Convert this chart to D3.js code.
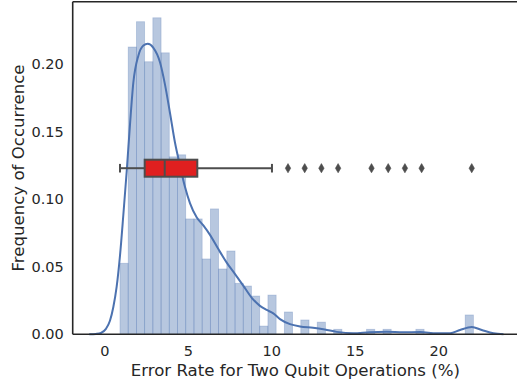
<!DOCTYPE html>
<html>
<head>
<meta charset="utf-8">
<script src="https://cdn.jsdelivr.net/npm/d3@7"></script>
<style>
  html, body { margin: 0; padding: 0; background: #fff; }
  svg { display: block; }
  text { font-family: "DejaVu Sans", sans-serif; fill: #262626; }
</style>
</head>
<body>
<svg id="chart" width="517" height="385"></svg>
<script>
// ---------- data ----------
const histMin = 0.94;
const histMax = 22.1;
const histDensity = [0.0525, 0.2124, 0.2311, 0.2015, 0.234, 0.2081, 0.1312, 0.1327, 0.0853, 0.0853,
  0.0557, 0.0927, 0.0483, 0.0616, 0.0377, 0.0357, 0.0283, 0.0061, 0.029, 0,
  0.0165, 0, 0.0106, 0, 0.009, 0, 0.0037, 0, 0, 0,
  0.0037, 0, 0.0037, 0, 0, 0, 0.0037, 0, 0, 0,
  0, 0, 0.0143];
const kdeX = [-0.9, -0.5, -0.2, 0.1, 0.34, 0.54, 0.74, 0.94, 1.14, 1.34, 1.54, 1.74, 2.04, 2.34, 2.6, 2.93,
  3.34, 3.63, 3.93, 4.23, 4.53, 4.83, 5.13, 5.53, 5.93, 6.33, 6.83, 7.33, 7.83, 8.32, 8.83, 9.32, 9.72,
  10.12, 10.52, 11.12, 11.72, 12.5, 13.2, 13.92, 14.9, 15.9, 16.9, 17.9, 18.9, 19.9, 20.7, 21.3, 22.0,
  22.6, 23.3, 23.9];
const kdeY = [0, 0.0003, 0.001, 0.004, 0.010, 0.02, 0.035, 0.058, 0.088, 0.12, 0.155, 0.186, 0.206, 0.2135, 0.2148, 0.212,
  0.201, 0.185, 0.164, 0.142, 0.125, 0.109, 0.097, 0.0865, 0.0805, 0.0735, 0.063, 0.053, 0.0445, 0.036, 0.027, 0.021, 0.018,
  0.0155, 0.0112, 0.0075, 0.0058, 0.0048, 0.0035, 0.0018, 0.0008, 0.0016, 0.0019, 0.0015, 0.0017, 0.0007, 0.0007, 0.0032, 0.0054,
  0.0032, 0.0008, 0];
const boxStats = { whiskerLow: 0.94, q1: 2.42, median: 3.62, q3: 5.57, whiskerHigh: 10.04 };
const boxLevel = 0.1228;
const outliers = [11, 12, 13, 14, 16, 17, 18, 19, 22];
const xTicks = [0, 5, 10, 15, 20];
const yTicks = [0.00, 0.05, 0.10, 0.15, 0.20];
const xLabel = "Error Rate for Two Qubit Operations (%)";
const yLabel = "Frequency of Occurrence";

// ---------- layout ----------
const mLeft = 72.7, mRight = 518, mTop = 1.7, mBottom = 334.3;
const svg = d3.select("#chart");
const x = d3.scaleLinear().domain([-1.89, 24.77]).range([mLeft, mRight]);
const y = d3.scaleLinear().domain([0, 0.2459]).range([mBottom, mTop]);

const blue = "#4c72b0";
const nb = histDensity.length;
const bw = (histMax - histMin) / nb;
const bins = histDensity.map((d, i) => ({ x0: histMin + i * bw, x1: histMin + (i + 1) * bw, d }));

// histogram
svg.append("g").selectAll("rect").data(bins.filter(b => b.d > 0)).join("rect")
  .attr("x", b => x(b.x0))
  .attr("width", b => x(b.x1) - x(b.x0))
  .attr("y", b => y(b.d))
  .attr("height", b => y(0) - y(b.d))
  .attr("fill", blue).attr("fill-opacity", 0.4)
  .attr("stroke", blue).attr("stroke-opacity", 0.3).attr("stroke-width", 0.8);

// kde
const kde = kdeX.map((v, i) => [v, kdeY[i]]);
svg.append("path").datum(kde)
  .attr("fill", "none").attr("stroke", blue).attr("stroke-width", 2)
  .attr("d", d3.line().x(d => x(d[0])).y(d => y(d[1])).curve(d3.curveMonotoneX));

// boxplot
const by = y(boxLevel), bh = 8.5, grey = "#4d4d4d";
const g = svg.append("g");
g.append("line").attr("x1", x(boxStats.whiskerLow)).attr("x2", x(boxStats.q1))
  .attr("y1", by).attr("y2", by).attr("stroke", grey).attr("stroke-width", 2);
g.append("line").attr("x1", x(boxStats.q3)).attr("x2", x(boxStats.whiskerHigh))
  .attr("y1", by).attr("y2", by).attr("stroke", grey).attr("stroke-width", 2);
[boxStats.whiskerLow, boxStats.whiskerHigh].forEach(v => {
  g.append("line").attr("x1", x(v)).attr("x2", x(v))
    .attr("y1", by - 4.3).attr("y2", by + 4.3).attr("stroke", grey).attr("stroke-width", 2);
});
g.append("rect").attr("x", x(boxStats.q1)).attr("width", x(boxStats.q3) - x(boxStats.q1))
  .attr("y", by - bh).attr("height", 2 * bh)
  .attr("fill", "#e01f1f").attr("stroke", grey).attr("stroke-width", 2);
g.append("line").attr("x1", x(boxStats.median)).attr("x2", x(boxStats.median))
  .attr("y1", by - bh).attr("y2", by + bh).attr("stroke", grey).attr("stroke-width", 2);
g.selectAll("path.out").data(outliers).join("path").attr("class", "out")
  .attr("d", v => `M${x(v)},${by - 4.6}L${x(v) + 2.7},${by}L${x(v)},${by + 4.6}L${x(v) - 2.7},${by}Z`)
  .attr("fill", grey).attr("stroke", grey).attr("stroke-width", 0.6);

// spines
const spine = (x1, y1, x2, y2) => svg.append("line").attr("x1", x1).attr("y1", y1).attr("x2", x2).attr("y2", y2)
  .attr("stroke", "#262626").attr("stroke-width", 1.6);
spine(mLeft, mTop, mLeft, mBottom);
spine(mLeft, mTop, mRight, mTop);
spine(mLeft, mBottom, mRight, mBottom);

// axes
const xAxis = svg.append("g").attr("transform", `translate(0,${mBottom})`)
  .call(d3.axisBottom(x).tickValues(xTicks).tickSize(0).tickPadding(11).tickFormat(d3.format("d")));
xAxis.select(".domain").remove();
xAxis.selectAll("text").style("font-size", "14.5px").attr("fill", "#262626")
  .style("font-family", "'DejaVu Sans', sans-serif");

const yAxis = svg.append("g").attr("transform", `translate(${mLeft},0)`)
  .call(d3.axisLeft(y).tickValues(yTicks).tickSize(0).tickPadding(9).tickFormat(d3.format(".2f")));
yAxis.select(".domain").remove();
yAxis.selectAll("text").style("font-size", "14.5px").attr("fill", "#262626")
  .style("font-family", "'DejaVu Sans', sans-serif");

svg.append("text").attr("x", (mLeft + mRight) / 2).attr("y", 375.5)
  .attr("text-anchor", "middle").style("font-size", "16.6px").text(xLabel);
svg.append("text").attr("transform", `translate(23.5,${(mTop + mBottom) / 2}) rotate(-90)`)
  .attr("text-anchor", "middle").style("font-size", "16.6px").text(yLabel);
</script>
</body>
</html>
